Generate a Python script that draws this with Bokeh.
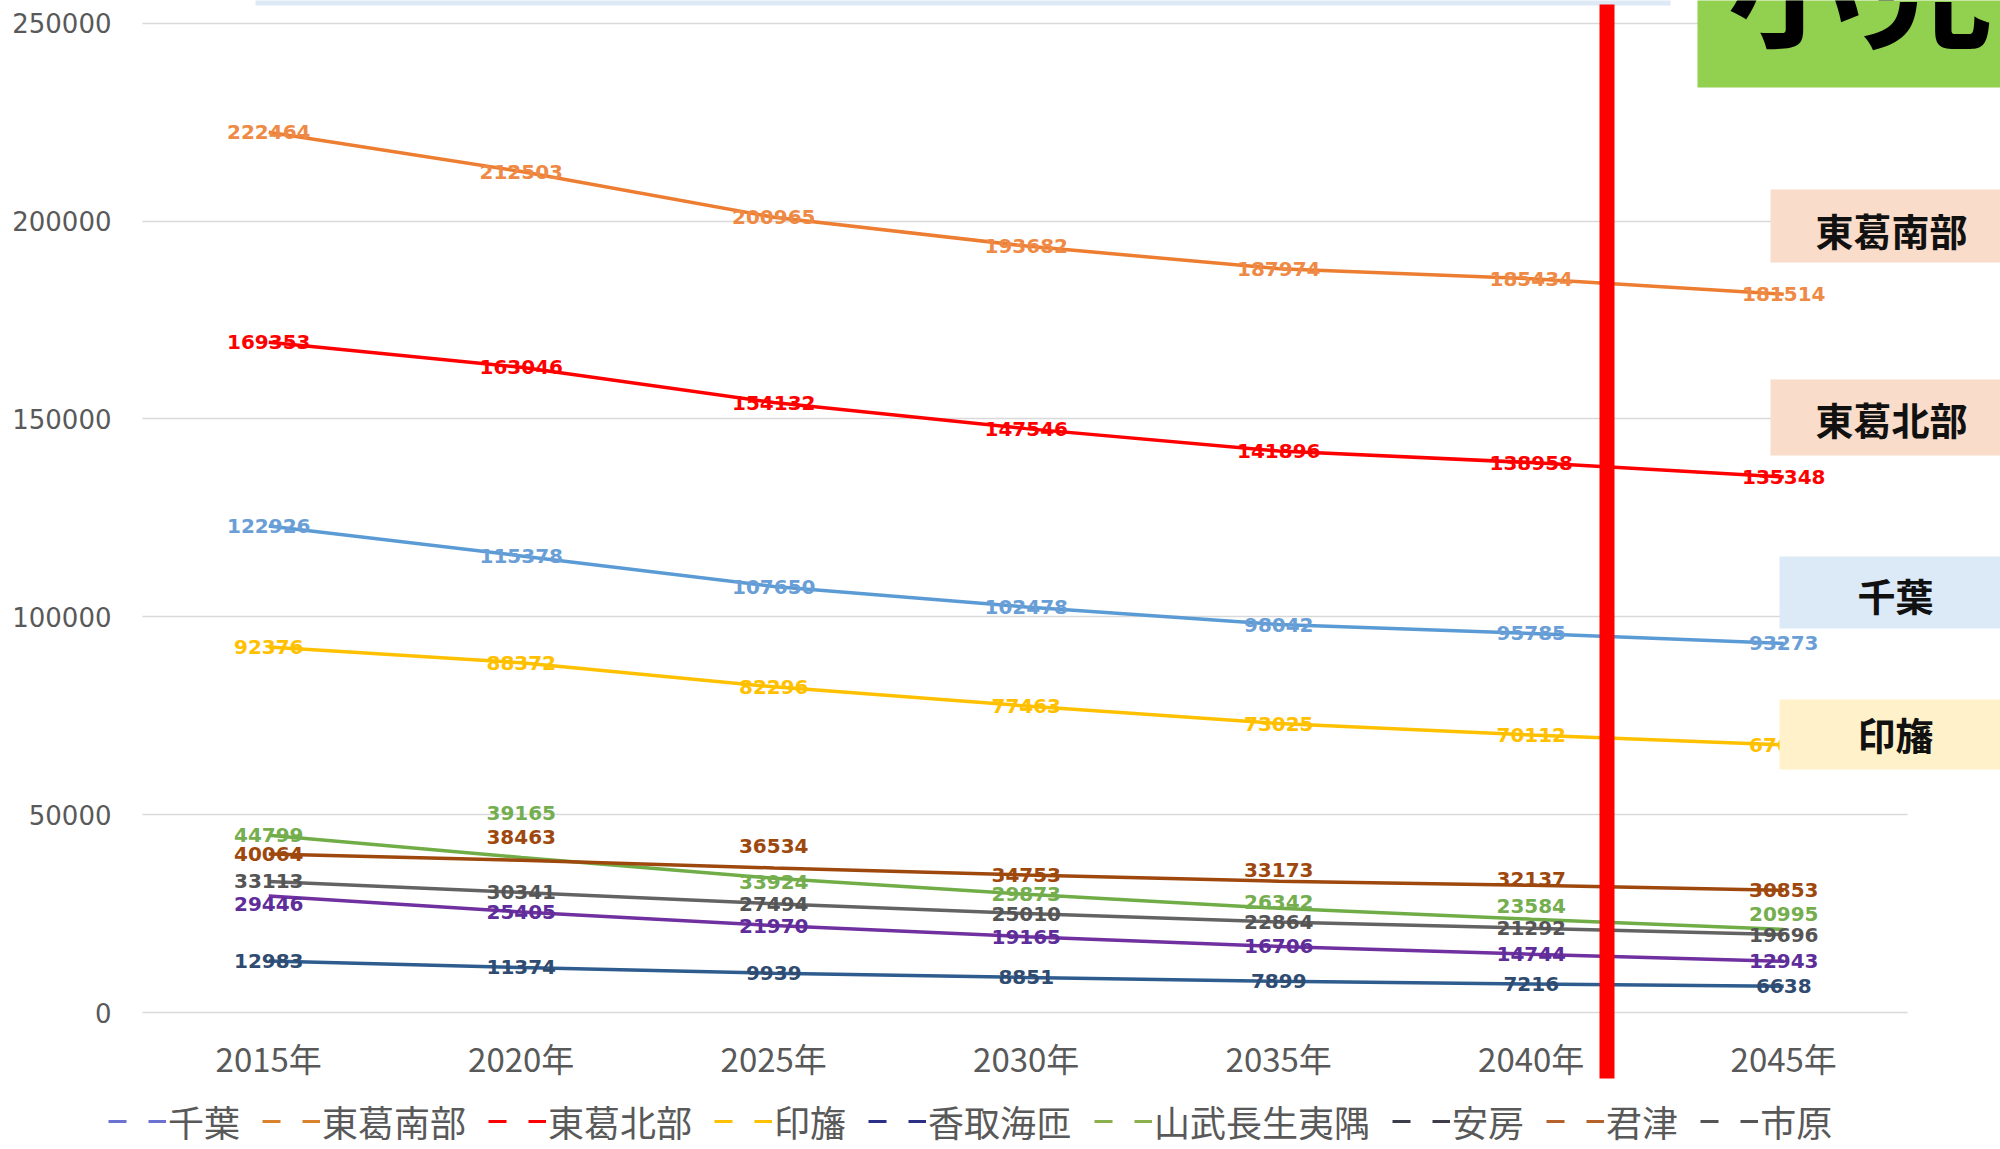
from bokeh.plotting import figure
from bokeh.models import (Range1d, FixedTicker, Legend, LegendItem,
                          ColumnDataSource, LabelSet, BasicTickFormatter)
from bokeh.core.properties import value
from bokeh.embed import file_html
from bokeh.resources import INLINE

# ---------------- data ----------------
years = [2015, 2020, 2025, 2030, 2035, 2040, 2045]
year_labels = ["2015年", "2020年", "2025年", "2030年", "2035年", "2040年", "2045年"]
y_ticks = [0, 50000, 100000, 150000, 200000, 250000]

series_names = ["千葉", "東葛南部", "東葛北部", "印旛", "香取海匝",
                "山武長生夷隅", "安房", "君津", "市原"]
chiba      = [122926, 115378, 107650, 102478, 98042, 95785, 93273]
tokatsu_s  = [222464, 212503, 200965, 193682, 187974, 185434, 181514]
tokatsu_n  = [169353, 163046, 154132, 147546, 141896, 138958, 135348]
inba       = [92376, 88372, 82296, 77463, 73025, 70112, 67600]
katori     = [29446, 25405, 21970, 19165, 16706, 14744, 12943]
sanbu      = [44799, 39165, 33924, 29873, 26342, 23584, 20995]
awa        = [12983, 11374, 9939, 8851, 7899, 7216, 6638]
kimitsu    = [40064, 38463, 36534, 34753, 33173, 32137, 30853]
ichihara   = [33113, 30341, 27494, 25010, 22864, 21292, 19696]
series_values = [chiba, tokatsu_s, tokatsu_n, inba, katori, sanbu, awa, kimitsu, ichihara]

marker_year = 2041.5          # red vertical marker
box_labels = ["東葛南部", "東葛北部", "千葉", "印旛"]
corner_title = "小児"

# ---------------- styles ----------------
line_colors = ["#5B9BD5", "#ED7D31", "#FF0000", "#FFC000", "#7030A0",
               "#70AD47", "#2E5C8E", "#9E480E", "#636363"]
label_colors = ["#6A9ED6", "#EE8A45", "#FF0000", "#FFC000", "#5E2D99",
                "#74AE4F", "#2F4B70", "#9E480E", "#555555"]
legend_colors = ["#6B72D2", "#D9822B", "#FF0000", "#FFC000", "#2B2F86",
                 "#8DB04E", "#3C3C4A", "#B5622A", "#555555"]
# vertical pixel nudges of some data labels (negative = up)
label_nudge = {
    "香取海匝": [8, 0, 0, 0, 0, 0, 0],
    "山武長生夷隅": [0, -45, 4, 0, -6, -13, -15],
    "君津": [0, -23, -22, 0, -11, -6, 0],
}
white_bg = {"君津": [1, 2, 4]}

W, H = 2000, 1149
PX = 50.5                        # px per year
PLOT_LEFT = 142                  # left end of the gridlines (reference px)
x0 = 2012.5 - PLOT_LEFT / PX
x1 = x0 + W / PX
PY = 989.3 / 250000              # px per unit
y1 = 250000 + 22.7 / PY
y0 = y1 - H / PY


def rx(X):   # reference-image pixel -> data x
    return x0 + X / PX


def ry(Y):   # reference-image pixel -> data y
    return y1 - Y / PY


p = figure(width=W, height=H, output_backend="svg", toolbar_location=None,
           x_range=Range1d(x0, x1), y_range=Range1d(y0, y1),
           min_border_left=0, min_border_right=0, min_border_top=0,
           min_border_bottom=0)
p.title.visible = False
p.outline_line_color = None
p.background_fill_color = "white"
p.border_fill_color = "white"

# grid
p.xgrid.visible = False
p.ygrid.ticker = FixedTicker(ticks=y_ticks)
p.ygrid.grid_line_color = "#D9D9D9"
p.ygrid.grid_line_width = 1.6
if "cross_bounds" in p.ygrid[0].properties():
    p.ygrid.cross_bounds = (rx(PLOT_LEFT), rx(1907))

# y axis (drawn inside the frame at the left end of the grid)
p.yaxis.fixed_location = rx(PLOT_LEFT)
p.yaxis.ticker = FixedTicker(ticks=y_ticks)
p.yaxis.formatter = BasicTickFormatter(use_scientific=False)
p.yaxis.axis_line_color = None
p.yaxis.major_tick_line_color = None
p.yaxis.minor_tick_line_color = None
p.yaxis.major_label_standoff = 25
p.yaxis.major_label_text_font = "DejaVu Sans"
p.yaxis.major_label_text_font_size = "26px"
p.yaxis.major_label_text_color = "#595959"

# x axis (drawn inside the frame at y = 0)
p.xaxis.fixed_location = 0
p.xaxis.ticker = FixedTicker(ticks=years)
p.xaxis.major_label_overrides = {y: l for y, l in zip(years, year_labels)}
p.xaxis.axis_line_color = None
p.xaxis.major_tick_line_color = None
p.xaxis.minor_tick_line_color = None
p.xaxis.major_label_standoff = 15
p.xaxis.major_label_text_font = "Noto Sans CJK JP"
p.xaxis.major_label_text_font_size = "33px"
p.xaxis.major_label_text_color = "#595959"

# top strip (edge of a cut-off title panel)
p.quad(left=[rx(255)], right=[rx(1670)], top=[ry(-20)], bottom=[ry(5)],
       fill_color="#DDEAF6", line_color=None)

# lines
for name, vals, c in zip(series_names, series_values, line_colors):
    p.line(years, vals, line_color=c, line_width=3.5)

# data labels
for name, vals, c in zip(series_names, series_values, label_colors):
    nud = label_nudge.get(name, [0] * len(vals))
    bg = white_bg.get(name, [])
    idx = [i for i in range(len(vals)) if i not in bg]
    src = ColumnDataSource(dict(x=[years[i] for i in idx], y=[vals[i] for i in idx],
                                t=[str(vals[i]) for i in idx], o=[nud[i] for i in idx]))
    p.text(x="x", y="y", text="t", y_offset="o", source=src,
           text_color=c, text_font=value("DejaVu Sans"), text_font_style="bold",
           text_font_size="20px", text_align="center", text_baseline="middle")

# right-side boxes
boxes_px = [(1770, 189, 2000, 262), (1770, 379, 2000, 455),
            (1779, 556, 2000, 628), (1779, 699, 2000, 769)]
box_colors = ["#F9DCC9", "#F9DCC9", "#DCE9F6", "#FFF1CA"]
text_px = [(1891, 229), (1891, 418), (1895, 594), (1895, 733)]
p.quad(left=[rx(b[0]) for b in boxes_px], right=[rx(b[2] + 10) for b in boxes_px],
       top=[ry(b[1]) for b in boxes_px], bottom=[ry(b[3]) for b in boxes_px],
       fill_color=box_colors, line_color=None)
p.text(x=[rx(t[0]) for t in text_px], y=[ry(t[1]) for t in text_px], text=box_labels,
       text_font=value("Noto Sans CJK JP"), text_font_style="bold",
       text_font_size="38px", text_color="#111111",
       text_align="center", text_baseline="middle")

# green corner box
p.quad(left=[rx(1697)], right=[rx(2010)], top=[ry(-10)], bottom=[ry(87)],
       fill_color="#92D050", line_color=None)
p.text(x=[rx(1860)], y=[ry(-22)], text=[corner_title],
       text_font=value("Noto Sans CJK JP"), text_font_style="bold",
       text_font_size="133px", text_color="black",
       text_align="center", text_baseline="alphabetic")

# red vertical marker
p.segment(x0=[marker_year], y0=[ry(1078)], x1=[marker_year], y1=[ry(4)],
          line_color="#FF0000", line_width=15)

# labels with white background (君津) - the box hides the line below them
for name, vals, c in zip(series_names, series_values, label_colors):
    if name not in white_bg:
        continue
    nud = label_nudge.get(name, [0] * len(vals))
    for i in white_bg[name]:
        src = ColumnDataSource(dict(x=[years[i]], y=[vals[i]], t=[str(vals[i])],
                                    o=[-nud[i]]))
        ls = LabelSet(x="x", y="y", text="t", y_offset="o", source=src,
                      text_color=c, text_font=value("DejaVu Sans"),
                      text_font_style="bold", text_font_size=value("20px"),
                      text_align="center", text_baseline="middle",
                      background_fill_color="white")
        pad_b = max(0, -nud[i] - 7)
        try:
            ls.padding = dict(left=0, right=0, top=0, bottom=pad_b)
        except Exception:
            try:
                ls.padding = (0, 0, pad_b, 0)
            except Exception:
                pass
        p.add_layout(ls)

# legend (dashed samples), at the bottom of the canvas
items = []
for name, c in zip(series_names, legend_colors):
    r = p.line([years[0]], [float("nan")], line_color=c, line_width=3,
               line_dash="18 22")
    items.append(LegendItem(label=name, renderers=[r]))
legend = Legend(items=items, orientation="horizontal", location=(108, 2),
                spacing=22, padding=0, margin=0, glyph_width=58, glyph_height=32,
                label_standoff=2, label_height=32,
                label_text_font="Noto Sans CJK JP", label_text_font_size="36px",
                label_text_color="#595959", border_line_color=None,
                background_fill_alpha=0)
if "nrows" in Legend.properties():
    legend.nrows = 1
p.add_layout(legend)

open("out.html", "w").write(file_html(p, INLINE))
